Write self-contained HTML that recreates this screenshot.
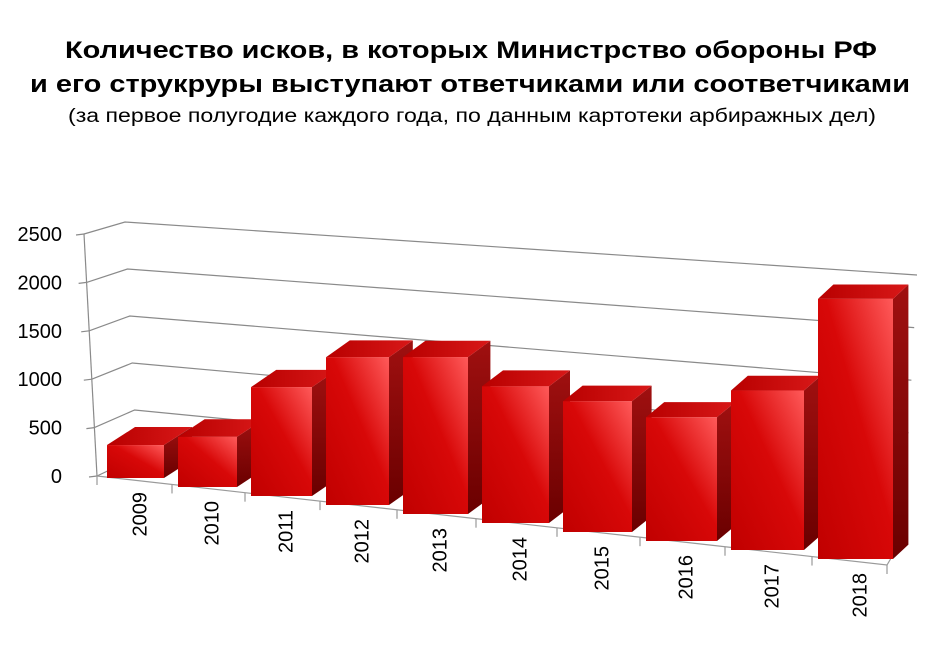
<!DOCTYPE html>
<html><head><meta charset="utf-8"><style>
html,body{margin:0;padding:0;background:#fff;}
svg{display:block;}
text{font-family:"Liberation Sans Narrow","Liberation Sans","DejaVu Sans",sans-serif;}
</style></head><body>
<svg id="chart" width="942" height="654" viewBox="0 0 942 654" xmlns="http://www.w3.org/2000/svg">
<defs>
<linearGradient id="gFront" x1="1" y1="0" x2="0" y2="1">
<stop offset="0" stop-color="#ff5a5a"/><stop offset="0.45" stop-color="#d80808"/><stop offset="1" stop-color="#c00000"/>
</linearGradient>
<linearGradient id="gSide" x1="0" y1="0" x2="0" y2="1">
<stop offset="0" stop-color="#a01010"/><stop offset="1" stop-color="#6a0000"/>
</linearGradient>
<linearGradient id="gTop" x1="0" y1="0" x2="1" y2="0">
<stop offset="0" stop-color="#b80000"/><stop offset="1" stop-color="#d81818"/>
</linearGradient>
</defs>
<g>
<text x="471" y="58" text-anchor="middle" font-size="24" font-weight="bold" textLength="812" lengthAdjust="spacingAndGlyphs">Количество исков, в которых Министрство обороны РФ</text>
<text x="470" y="92" text-anchor="middle" font-size="24" font-weight="bold" textLength="880" lengthAdjust="spacingAndGlyphs">и его струкруры выступают ответчиками или соответчиками</text>
<text x="472" y="122" text-anchor="middle" font-size="19" textLength="808" lengthAdjust="spacingAndGlyphs">(за первое полугодие каждого года, по данным картотеки арбиражных дел)</text>
</g>
<g id="grid"></g>
<g id="axes"></g>
<g id="bars"></g>
<g id="labels"></g>
</svg>
<script>
const categories = ["2009","2010","2011","2012","2013","2014","2015","2016","2017","2018"];
const values = [340, 500, 1050, 1380, 1420, 1200, 1115, 1025, 1285, 2040];
const yTicks = [0, 500, 1000, 1500, 2000, 2500];
const yMax = 2500;

const NS = "http://www.w3.org/2000/svg";
function mk(tag, attrs, parent){const e=document.createElementNS(NS,tag);for(const k in attrs)e.setAttribute(k,attrs[k]);parent.appendChild(e);return e;}
const grid=document.getElementById('grid'), axes=document.getElementById('axes'), bars=document.getElementById('bars'), labels=document.getElementById('labels');

function frontLeft(v){const t=v/yMax;return [97-13*t,476-242*t];}
function backLeft(v){const t=v/yMax;return [137-12*t,457-235*t];}
function backRight(v){const t=v/yMax;return [903+14*t,538-263*t];}
function barLeft(i){return 107+70*i+i*i;}
function barWidth(i){return 57+2*i;}
function barBottom(i){return 478+9*i;}
function barScale(i){return barWidth(i)*0.0017;}
function depthX(i){return 28-1.4*i;}
function depthY(i){return -18+0.4*i;}

yTicks.forEach(v=>{
  const f=frontLeft(v), b=backLeft(v), r=backRight(v);
  const l1=mk('polyline',{points:`${f[0]},${f[1]} ${b[0]},${b[1]} ${r[0]},${r[1]}`,fill:'none',stroke:'#8a8a8a','stroke-width':1.2},grid);
  
  
  const tk=mk('line',{x1:f[0]-8,y1:f[1]+1,x2:f[0],y2:f[1],stroke:'#8a8a8a','stroke-width':1.2},axes);
  
  
  const tx=mk('text',{x:62,y:f[1]+7,'text-anchor':'end','font-size':20,fill:'#000'},labels);
  tx.textContent=v;
  
  
});
const f0=frontLeft(0), fT=frontLeft(yMax);
const ya=mk('line',{x1:f0[0],y1:f0[1],x2:fT[0],y2:fT[1],stroke:'#8a8a8a','stroke-width':1.2},axes);


const fl=mk('polyline',{points:`97,476 887,565 903,538`,fill:'none',stroke:'#9a9a9a','stroke-width':1.2},axes);


for(let i=0;i<=categories.length;i++){
  const x= i===0?97:(i===categories.length?887:barLeft(i)-6);
  const y=476+(x-97)*(89/790);
  const t=mk('line',{x1:x,y1:y,x2:x,y2:y+9,stroke:'#9a9a9a','stroke-width':1.2},axes);
  
  
}

categories.forEach((c,i)=>{
  const L=barLeft(i), W=barWidth(i), B=barBottom(i), h=values[i]*barScale(i), T=B-h;
  const dx=depthX(i), dy=depthY(i), R=L+W;
  const g=mk('g',{},bars);
  
  
  mk('polygon',{points:`${R},${T} ${R+dx},${T+dy} ${R+dx},${B+dy} ${R},${B}`,fill:'url(#gSide)'},g);
  mk('polygon',{points:`${L},${T} ${L+dx},${T+dy} ${R+dx},${T+dy} ${R},${T}`,fill:'url(#gTop)'},g);
  mk('rect',{x:L,y:T,width:W,height:h,fill:'url(#gFront)'},g);
  const cx=L+W/2+4, ly=B+14;
  const tx=mk('text',{x:0,y:0,'text-anchor':'end','font-size':20,fill:'#000',transform:`translate(${cx+7},${ly}) rotate(-90)`},labels);
  tx.textContent=c;
  
  
});
</script>
</body></html>
